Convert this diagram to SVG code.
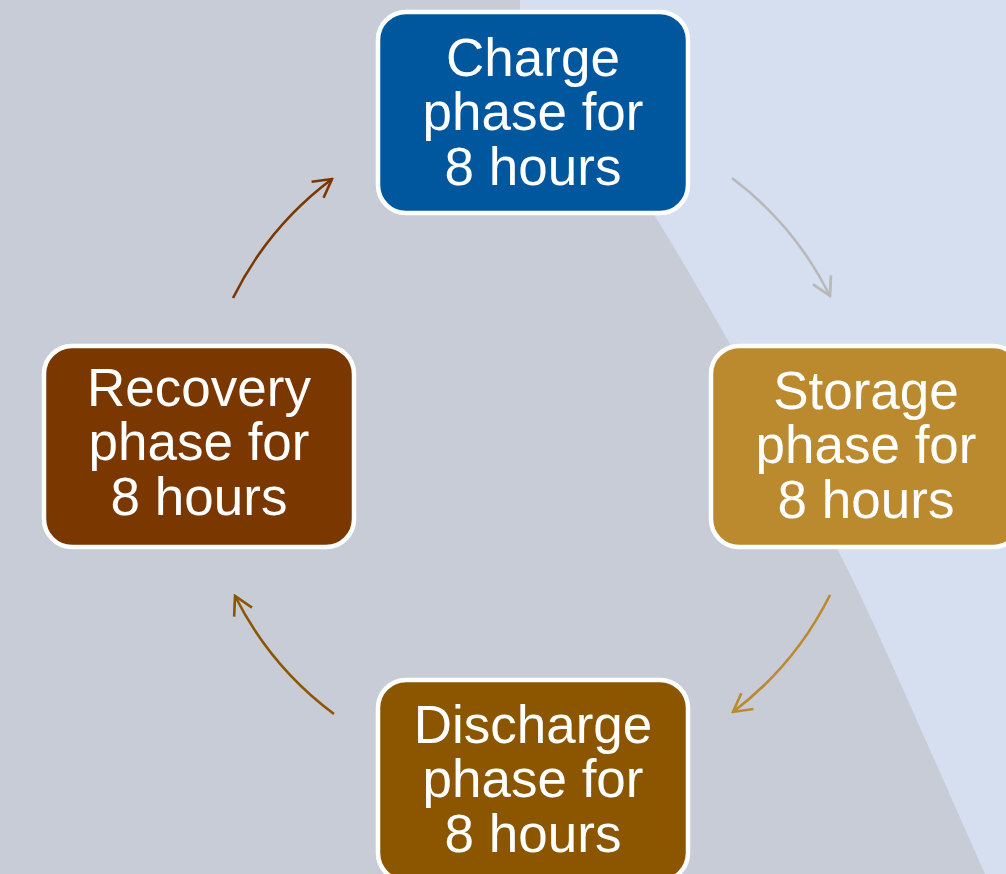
<svg xmlns="http://www.w3.org/2000/svg" width="1006" height="874" viewBox="0 0 1006 874">
<style>
.box{stroke:#ffffff;stroke-width:4.5}
.t{font-family:"Liberation Sans",Arial,sans-serif;font-size:53px;fill:#ffffff;text-anchor:middle}
.c{fill:none;stroke-width:2.6}
</style>
<defs>
<marker id="m1" viewBox="-22 -12 24 24" refX="0" refY="0" markerWidth="24" markerHeight="24" markerUnits="userSpaceOnUse" orient="auto"><path d="M-18,-10 L0,0 L-18,10" fill="none" stroke="#7a3700" stroke-width="2.6"/></marker>
<marker id="m2" viewBox="-22 -12 24 24" refX="0" refY="0" markerWidth="24" markerHeight="24" markerUnits="userSpaceOnUse" orient="auto"><path d="M-18,-10 L0,0 L-18,10" fill="none" stroke="#b9b9b9" stroke-width="2.8"/></marker>
<marker id="m3" viewBox="-22 -12 24 24" refX="0" refY="0" markerWidth="24" markerHeight="24" markerUnits="userSpaceOnUse" orient="auto"><path d="M-18,-10 L0,0 L-18,10" fill="none" stroke="#bb8a2f" stroke-width="2.6"/></marker>
<marker id="m4" viewBox="-22 -12 24 24" refX="0" refY="0" markerWidth="24" markerHeight="24" markerUnits="userSpaceOnUse" orient="auto"><path d="M-18,-10 L0,0 L-18,10" fill="none" stroke="#8c5600" stroke-width="2.6"/></marker>
</defs>
<rect x="0" y="0" width="1006" height="874" fill="#c8ccd7"/>
<path d="M520,0 L1006,0 L1006,874 L985,874 C930,750 880,635 850,574 C790,455 740,355 655,216 L520,60 Z" fill="#d6dff0"/>
<g id="connectors">
<path class="c" stroke="#7a3700" d="M233,298 A334,334 0 0 1 332,179" marker-end="url(#m1)"/>
<path class="c" stroke="#b9b9b9" stroke-width="2.8" d="M732,178 A334,334 0 0 1 830,296" marker-end="url(#m2)"/>
<path class="c" stroke="#bb8a2f" d="M830,595 A334,334 0 0 1 733,712" marker-end="url(#m3)"/>
<path class="c" stroke="#8c5600" d="M334,714 A334,334 0 0 1 235,596" marker-end="url(#m4)"/>
</g>
<g id="charge">
<rect class="box" x="378" y="12" width="310" height="201" rx="28" fill="#00579e"/>
<text class="t" x="533" y="76">Charge</text>
<text class="t" x="533" y="130">phase for</text>
<text class="t" x="533" y="185">8 hours</text>
</g>
<g id="storage">
<rect class="box" x="711" y="346" width="310" height="201" rx="28" fill="#bb8a2f"/>
<text class="t" x="866" y="409">Storage</text>
<text class="t" x="866" y="463">phase for</text>
<text class="t" x="866" y="518">8 hours</text>
</g>
<g id="discharge">
<rect class="box" x="378" y="680" width="310" height="201" rx="28" fill="#8c5600"/>
<text class="t" x="533" y="743">Discharge</text>
<text class="t" x="533" y="797">phase for</text>
<text class="t" x="533" y="852">8 hours</text>
</g>
<g id="recovery">
<rect class="box" x="44" y="346" width="310" height="201" rx="28" fill="#7a3700"/>
<text class="t" x="199" y="406">Recovery</text>
<text class="t" x="199" y="460">phase for</text>
<text class="t" x="199" y="515">8 hours</text>
</g>
</svg>
